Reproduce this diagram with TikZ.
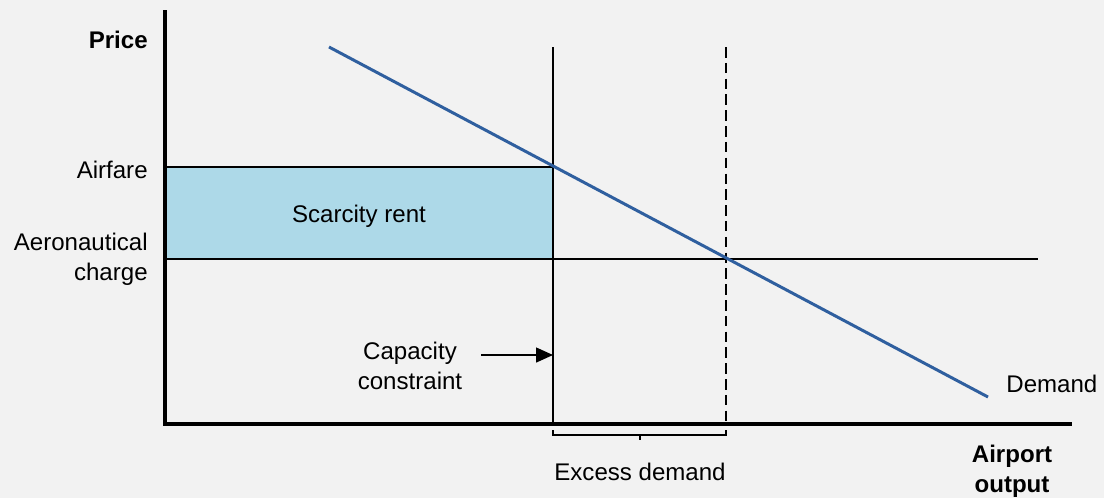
\documentclass[tikz,border=0pt]{standalone}
\usepackage{fontspec}
\setmainfont{Liberation Sans}
\usetikzlibrary{arrows.meta}
\definecolor{bgrey}{HTML}{F2F2F2}
\definecolor{rentblue}{HTML}{ADD9E8}
\definecolor{demblue}{HTML}{2F5F9F}
\begin{document}
\begin{tikzpicture}[x=0.02cm,y=-0.02cm,
  every node/.style={font=\fontsize{13.7}{17}\selectfont, inner sep=0pt},
  axis/.style={black, line width=2.3pt},
  guide/.style={black, line width=0.8pt}]
\fill [bgrey] (0,0) rectangle (1104,498);
\useasboundingbox (0,0) rectangle (1104,498);
\coordinate (o) at (165,424);
\coordinate (ytop) at (165,10);
\coordinate (xend) at (1072,424);
\coordinate (fa) at (165,167);
\coordinate (ac) at (165,259);
\coordinate (ctop) at (553,47);
\coordinate (cbot) at (553,424);
\coordinate (etop) at (726,47);
\coordinate (ebot) at (726,424);
\coordinate (fk) at (553,167);
\coordinate (acend) at (1038,259);
\coordinate (dstart) at (329,47);
\coordinate (dend) at (988,397);
\fill [rentblue] (fa) rectangle (553,259);
\node [anchor=east, font=\fontsize{13.7}{17}\selectfont\bfseries] (price) at (148,40) {Price};
\node [anchor=east] (airfare) at (148,170) {Airfare};
\node [anchor=east, align=right] (aero) at (148,259) {Aeronautical\\charge};
\node (rent) at (359,216) {Scarcity rent};
\node [align=center] (cap) at (410,366) {Capacity\\constraint};
\node [anchor=west] (demand) at (1006,384) {Demand};
\node [align=center, font=\fontsize{13.7}{17}\selectfont\bfseries] (output) at (1012,471) {Airport\\output};
\node (excess) at (640,472) {Excess demand};
\coordinate (arrstart) at (481,355);
\coordinate (arrend) at (553,355);
\draw [guide] (fa) -- (fk);
\draw [guide] (ac) -- (acend);
\draw [guide] (ctop) -- (cbot);
\draw [guide, dashed, dash pattern=on 6pt off 3pt] (etop) -- (ebot);
\draw [demblue, line width=1.7pt] (dstart) -- (dend);
\draw [guide, -{Triangle[length=0.34cm, width=0.3cm]}] (arrstart) -- (arrend);
\draw [guide] (553,430) -- (553,435) -- (726,435) -- (726,430);
\draw [guide] (640,435) -- (640,440);
\draw [axis] (ytop) -- (o) -- (xend);
\end{tikzpicture}
\end{document}
